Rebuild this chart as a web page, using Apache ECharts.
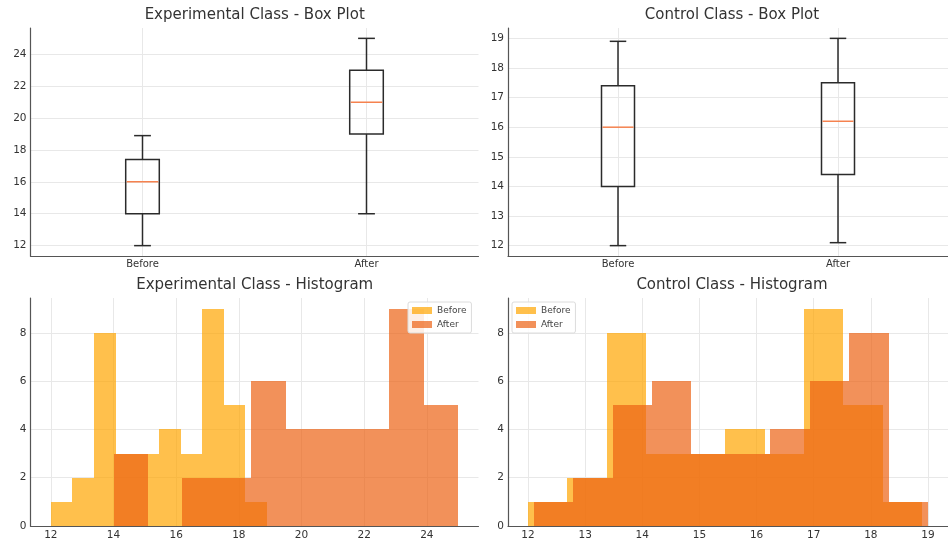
<!DOCTYPE html>
<html><head><meta charset="utf-8">
<script src="https://cdn.jsdelivr.net/npm/echarts@6/dist/echarts.min.js"></script>
<style>html,body{margin:0;padding:0;background:#fff}#c{width:948px;height:542px}</style>
</head><body><div id="c"></div>
<script>
// ---------- data ----------
const boxCategories = ['Before', 'After'];
const boxPositions = [1, 2];
// [min, Q1, median, Q3, max]
const expBoxBefore = [12, 14, 16, 17.4, 18.9];
const expBoxAfter = [14, 19, 21, 23, 25];
const ctrlBoxBefore = [12, 14, 16, 17.4, 18.9];
const ctrlBoxAfter = [12.1, 14.4, 16.2, 17.5, 19.0];

const expBeforeEdges = [12.0, 12.69, 13.38, 14.07, 14.76, 15.45, 16.14, 16.83, 17.52, 18.21, 18.9];
const expBeforeCounts = [1, 2, 8, 3, 3, 4, 3, 9, 5, 1];
const expAfterEdges = [14.0, 15.1, 16.2, 17.3, 18.4, 19.5, 20.6, 21.7, 22.8, 23.9, 25.0];
const expAfterCounts = [3, 0, 2, 2, 6, 4, 4, 4, 9, 5];
const ctrlBeforeEdges = [12.0, 12.69, 13.38, 14.07, 14.76, 15.45, 16.14, 16.83, 17.52, 18.21, 18.9];
const ctrlBeforeCounts = [1, 2, 8, 3, 3, 4, 3, 9, 5, 1];
const ctrlAfterEdges = [12.1, 12.79, 13.48, 14.17, 14.86, 15.55, 16.24, 16.93, 17.62, 18.31, 19.0];
const ctrlAfterCounts = [1, 2, 5, 6, 3, 3, 4, 6, 8, 1];

const expBoxTicks = [12, 14, 16, 18, 20, 22, 24];
const ctrlBoxTicks = [12, 13, 14, 15, 16, 17, 18, 19];
const expHistTicks = [12, 14, 16, 18, 20, 22, 24];
const ctrlHistTicks = [12, 13, 14, 15, 16, 17, 18, 19];
const countTicks = [0, 2, 4, 6, 8];

const titles = ['Experimental Class - Box Plot', 'Control Class - Box Plot',
                'Experimental Class - Histogram', 'Control Class - Histogram'];

// ---------- styles ----------
const FONT = 'DejaVu Sans';
const BEFORE_COLOR = 'rgba(255,165,0,0.7)';
const AFTER_COLOR = 'rgba(236,98,20,0.7)';
const AXIS_COLOR = '#555';
const GRID_COLOR = '#e8e8e8';
const LABEL_COLOR = '#333';

const grids = [
  {left: 30.5, top: 28, width: 448, height: 228},
  {left: 508, top: 28, width: 448, height: 228},
  {left: 30.5, top: 298, width: 448, height: 228},
  {left: 508, top: 298, width: 448, height: 228}
];

function axisBase(gridIndex, min, max, ticks, extraLabel) {
  return {
    type: 'value', gridIndex, min, max,
    axisLine: {show: true, lineStyle: {color: AXIS_COLOR, width: 1.2}},
    axisTick: {show: false, customValues: ticks},
    axisLabel: Object.assign({customValues: ticks, color: LABEL_COLOR, fontFamily: FONT, fontSize: 10.5}, extraLabel || {}),
    splitLine: {show: true, lineStyle: {color: GRID_COLOR, width: 1}}
  };
}

const boxLabel = {margin: 3, fontSize: 10, formatter: v => boxCategories[boxPositions.indexOf(Number(v))] || ''};

const xAxes = [
  axisBase(0, 0.5, 2.5, boxPositions, boxLabel),
  axisBase(1, 0.5, 2.5, boxPositions, boxLabel),
  axisBase(2, 11.35, 25.65, expHistTicks, {margin: 4}),
  axisBase(3, 11.65, 19.35, ctrlHistTicks, {margin: 4})
];
const yAxes = [
  axisBase(0, 11.35, 25.65, expBoxTicks, {margin: 4}),
  axisBase(1, 11.65, 19.35, ctrlBoxTicks, {margin: 4}),
  axisBase(2, 0, 9.45, countTicks, {margin: 4}),
  axisBase(3, 0, 9.45, countTicks, {margin: 4})
];

function boxData(stats) {
  return stats.map((s, i) => [boxPositions[i]].concat(s));
}
function histData(edges, counts) {
  return counts.map((c, i) => [edges[i], edges[i + 1], c]);
}

function boxItem(params, api) {
  const pos = api.value(0);
  const unit = api.size([1, 0])[0];
  const bw = unit * 0.15, cw = bw / 2;
  const pMin = api.coord([pos, api.value(1)]);
  const pQ1 = api.coord([pos, api.value(2)]);
  const pMed = api.coord([pos, api.value(3)]);
  const pQ3 = api.coord([pos, api.value(4)]);
  const pMax = api.coord([pos, api.value(5)]);
  const x = pMin[0];
  const ls = {stroke: '#2b2b2b', lineWidth: 1.5, fill: null};
  const line = (x1, y1, x2, y2, style) => ({type: 'line', shape: {x1, y1, x2, y2}, style});
  return {
    type: 'group',
    children: [
      line(x, pQ1[1], x, pMin[1], ls),
      line(x, pQ3[1], x, pMax[1], ls),
      line(x - cw / 2, pMin[1], x + cw / 2, pMin[1], ls),
      line(x - cw / 2, pMax[1], x + cw / 2, pMax[1], ls),
      {type: 'rect', shape: {x: x - bw / 2, y: pQ3[1], width: bw, height: pQ1[1] - pQ3[1]},
       style: {stroke: '#2b2b2b', lineWidth: 1.5, fill: 'none'}},
      line(x - bw / 2 + 1, pMed[1], x + bw / 2 - 1, pMed[1], {stroke: '#f5824f', lineWidth: 1.5})
    ]
  };
}

function histItem(params, api) {
  const a = api.coord([api.value(0), 0]);
  const b = api.coord([api.value(1), api.value(2)]);
  const x0 = Math.round(a[0]), x1 = Math.round(b[0]);
  const y0 = Math.round(a[1]), y1 = Math.round(b[1]);
  return {
    type: 'rect',
    shape: {x: x0, y: y1, width: x1 - x0, height: y0 - y1},
    style: {fill: api.visual('color')}
  };
}

const series = [
  {type: 'custom', name: 'expBox', xAxisIndex: 0, yAxisIndex: 0, renderItem: boxItem,
   data: boxData([expBoxBefore, expBoxAfter]), encode: {x: 0, y: [1, 2, 3, 4, 5]}, silent: true},
  {type: 'custom', name: 'ctrlBox', xAxisIndex: 1, yAxisIndex: 1, renderItem: boxItem,
   data: boxData([ctrlBoxBefore, ctrlBoxAfter]), encode: {x: 0, y: [1, 2, 3, 4, 5]}, silent: true},
  {type: 'custom', name: 'Before', xAxisIndex: 2, yAxisIndex: 2, renderItem: histItem,
   itemStyle: {color: BEFORE_COLOR}, data: histData(expBeforeEdges, expBeforeCounts), encode: {x: [0, 1], y: 2}},
  {type: 'custom', name: 'After', xAxisIndex: 2, yAxisIndex: 2, renderItem: histItem,
   itemStyle: {color: AFTER_COLOR}, data: histData(expAfterEdges, expAfterCounts), encode: {x: [0, 1], y: 2}},
  {type: 'custom', name: 'Before', xAxisIndex: 3, yAxisIndex: 3, renderItem: histItem,
   itemStyle: {color: BEFORE_COLOR}, data: histData(ctrlBeforeEdges, ctrlBeforeCounts), encode: {x: [0, 1], y: 2}},
  {type: 'custom', name: 'After', xAxisIndex: 3, yAxisIndex: 3, renderItem: histItem,
   itemStyle: {color: AFTER_COLOR}, data: histData(ctrlAfterEdges, ctrlAfterCounts), encode: {x: [0, 1], y: 2}}
];

const titleCenters = [254.7, 732, 254.7, 732];
const titleTops = [8, 8, 278, 278];

function legendAt(left, top) {
  return {
    data: [{name: 'Before', itemStyle: {color: BEFORE_COLOR}}, {name: 'After', itemStyle: {color: AFTER_COLOR}}],
    left, top, orient: 'vertical', icon: 'rect',
    itemWidth: 20, itemHeight: 7, itemGap: 5,
    padding: [4, 5, 4, 4],
    backgroundColor: 'rgba(255,255,255,0.85)',
    borderColor: '#dcdcdc', borderWidth: 1, borderRadius: 2,
    textStyle: {fontFamily: FONT, fontSize: 9, color: '#444'},
    selectedMode: false
  };
}

const option = {
  animation: false,
  backgroundColor: '#fff',
  textStyle: {fontFamily: FONT},
  title: titles.map((t, i) => ({
    text: t, left: titleCenters[i], top: titleTops[i], textAlign: 'center', padding: 0,
    textStyle: {fontFamily: FONT, fontSize: 15, fontWeight: 'normal', color: '#333'}
  })),
  grid: grids,
  xAxis: xAxes,
  yAxis: yAxes,
  legend: [legendAt(408, 302), legendAt(512, 302)],
  series
};

const chart = echarts.init(document.getElementById('c'), null, {renderer: 'canvas'});
chart.setOption(option);
</script>
</body></html>
